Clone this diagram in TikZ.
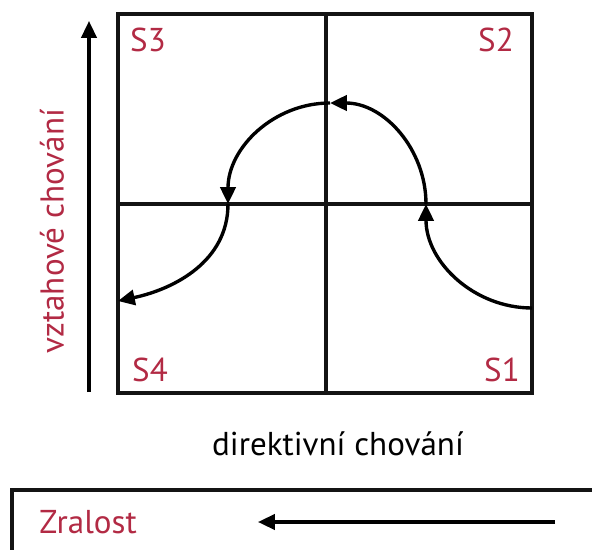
\documentclass[tikz,border=0pt]{standalone}
\usepackage{fontspec}
\setmainfont{PT Sans}
\usepackage{tikz}
\usetikzlibrary{positioning,arrows.meta,calc}
\definecolor{labred}{RGB}{178, 42, 68}
\definecolor{frameline}{RGB}{ 20, 20, 20}

\begin{document}
\begin{tikzpicture}[font=\fontsize{23.5}{27}\selectfont,
   frame/.style={draw=frameline,line width=2.6pt},
   split/.style={draw=frameline,line width=2.4pt},
   quad/.style={text=labred,inner sep=0pt},
   axis/.style={-{Triangle[length=4.2mm,width=3.8mm]},line width=2.2pt},
   curv/.style={-{Triangle[length=4.2mm,width=3.8mm]},line width=2.4pt}]

\clip (0,0) rectangle (14.8,13.725);
\useasboundingbox (0,0) rectangle (14.8,13.725);

% grid of four styles
\coordinate (sw) at (2.95,3.9);
\coordinate (ne) at (13.3,13.375);
\coordinate (mid) at (8.15,8.625);
\draw[split] (mid |- sw) -- (mid |- ne);
\draw[split] (mid -| sw) -- (mid -| ne);
\draw[frame] (sw) rectangle (ne);

\node[quad] (s3) at (3.7,12.72) {S3};
\node[quad] (s2) at (12.4,12.72) {S2};
\node[quad] (s4) at (3.75,4.47) {S4};
\node[quad] (s1) at (12.55,4.47) {S1};

% development curve
\coordinate (c0) at (13.3,6.025);
\coordinate (c1) at (10.65,8.625);
\coordinate (c2) at (8.25,11.15);
\coordinate (c3) at (5.7,8.625);
\coordinate (c4) at (2.95,6.2);
\draw[curv] (c0) to[out=180,in=-90] (c1);
\draw[curv] (c1) to[out=90,in=0] (c2);
\draw[curv] (c2) to[out=180,in=90] (c3);
\draw[curv] (c3) to[out=-90,in=12] (c4);

% axes
\coordinate (ybot) at (2.225,3.925);
\coordinate (ytop) at (2.225,13.2);
\draw[axis] (ybot) -- (ytop);
\node[text=labred,rotate=90] (ylab) at (1.3,7.95) {vztahové chování};
\node (xlab) at (8.45,2.62) {direktivní chování};

% maturity bar
\draw[frame] (0.3,-0.6) rectangle (15.4,1.475);
\node[text=labred] (zral) at (2.2,0.66) {Zralost};
\coordinate (zr) at (13.875,0.675);
\coordinate (zl) at (6.45,0.675);
\draw[axis] (zr) -- (zl);
\end{tikzpicture}
\end{document}
